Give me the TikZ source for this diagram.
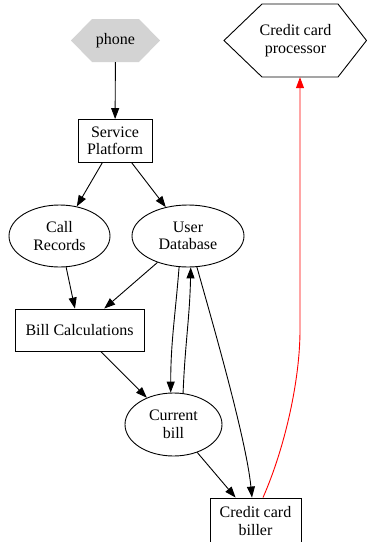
\documentclass[tikz,border=0pt]{standalone}
\usepackage{fontspec}
\setmainfont{Liberation Serif}
\usetikzlibrary{arrows.meta,shapes.geometric}
\definecolor{phonegray}{HTML}{D3D3D3}
\begin{document}
\begin{tikzpicture}[x=1pt,y=-1pt,
  every node/.style={font=\fontsize{16}{17.5}\selectfont, align=center, inner sep=0pt},
  boxnode/.style={draw, rectangle, line width=0.9pt},
  ellnode/.style={draw, ellipse, line width=0.9pt},
  hexnode/.style={rectangle},
  edge/.style={line width=0.9pt, -{Triangle[length=11pt,width=8pt]}},
]
\useasboundingbox (0,0) rectangle (367,542);
% hexagon shapes
\fill[phonegray] (71,40.5) -- (92,19) -- (139,19) -- (160,40.5) -- (139,62) -- (92,62) -- cycle;
\draw[line width=0.9pt] (224,40.5) -- (262,4) -- (338,4) -- (366.5,40.5) -- (338,77) -- (262,77) -- cycle;

\node[hexnode, minimum width=89pt, minimum height=43pt] (phone) at (115.5,40.5) {phone};
\node[hexnode, minimum width=142pt, minimum height=73pt] (ccp) at (295.5,40.5) {Credit card\\processor};
\node[boxnode, minimum width=74pt, minimum height=43pt] (sp) at (115,141) {Service\\Platform};
\node[ellnode, minimum width=101pt, minimum height=62pt] (cr) at (59.5,236) {Call\\Records};
\node[ellnode, minimum width=112pt, minimum height=62pt] (udb) at (188,236) {User\\Database};
\node[boxnode, minimum width=129pt, minimum height=42pt] (bc) at (79.5,330) {Bill Calculations};
\node[ellnode, minimum width=97pt, minimum height=63pt] (cb) at (173.5,424.5) {Current\\bill};
\node[boxnode, minimum width=91pt, minimum height=46pt] (ccb) at (255.5,521) {Credit card\\biller};

\draw[edge] (phone) -- (sp);
\draw[edge] (sp) -- (cr);
\draw[edge] (sp) -- (udb);
\draw[edge] (cr) -- (bc);
\draw[edge] (udb) -- (bc);
\draw[edge] (bc) -- (cb);
\draw[edge] (udb.254) .. controls +(-4,50) and +(0,-50) .. (cb.95);
\draw[edge] (cb.73) .. controls +(2,-50) and +(-1,50) .. (udb.275);
\draw[edge] (udb.286) .. controls +(14,50) and +(-6,-60) .. ([xshift=-3.5pt]ccb.north);
\draw[edge] (cb) -- (ccb);
\coordinate (redbend) at (300,330);
\draw[edge, red] ([xshift=7.5pt]ccb.north) .. controls +(22,-50) and +(0,50) .. (redbend) -- ([xshift=4.5pt]ccp.south);
\end{tikzpicture}
\end{document}
